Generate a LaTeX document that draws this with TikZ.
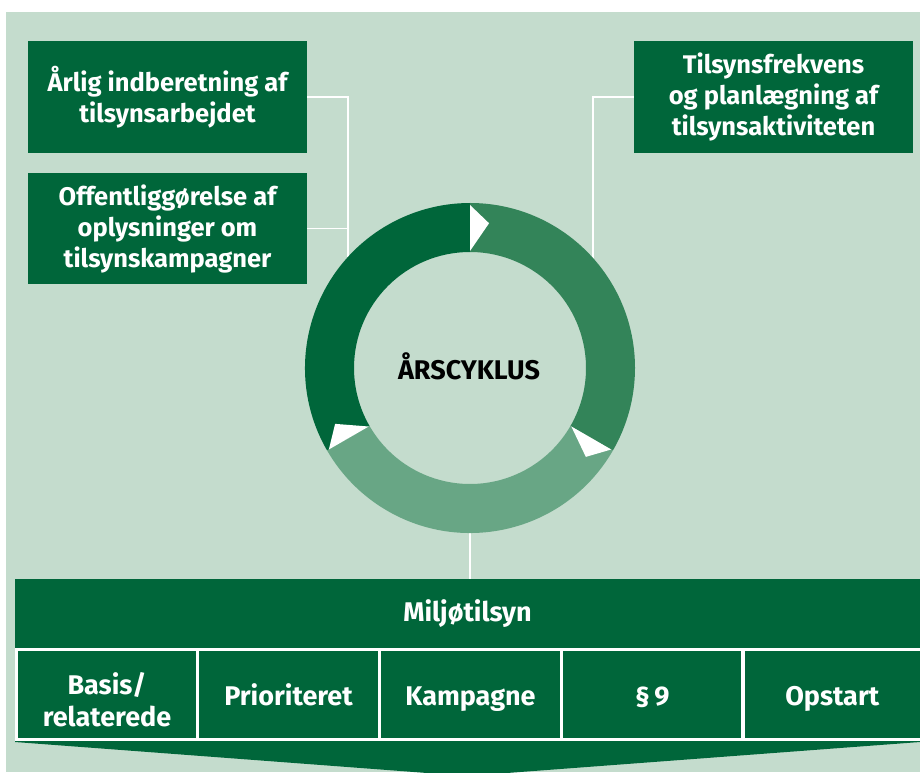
\documentclass[tikz,border=0pt]{standalone}
\usepackage{fontspec}
\setmainfont{Fira Sans}
\definecolor{bg}{HTML}{C4DCCD}
\definecolor{dkg}{HTML}{00663A}
\definecolor{mdg}{HTML}{338459}
\definecolor{ltg}{HTML}{68A685}
\tikzset{
  box/.style={fill=dkg, text=white, font=\bfseries\fontsize{25.5}{31}\selectfont,
    align=center, inner sep=0pt, minimum width=279, minimum height=112},
  cell/.style={fill=dkg, draw=white, line width=3.5pt, inner sep=0pt,
    minimum height=90},
  celltext/.style={text=white, font=\bfseries\fontsize{27}{32}\selectfont,
    align=center, inner sep=0pt},
  link/.style={draw=white, line width=1.5pt},
  lbl/.style={font=\bfseries\fontsize{27}{31}\selectfont, inner sep=0pt}
}
\begin{document}
\begin{tikzpicture}[x=1pt,y=1pt]
\useasboundingbox (0,0) rectangle (920,772);
\clip (0,0) rectangle (920,772);
\fill[bg] (6,0) rectangle (920,760);

% upper boxes
\node[box] (b1) at (167.5,675) {Årlig indberetning af\\tilsynsarbejdet};
\node[box, minimum height=111] (b2) at (167.5,543.5) {Offentliggørelse af\\oplysninger om\\tilsynskampagner};
\node[box] (b3) at (773.5,675) {Tilsynsfrekvens\\og planlægning af\\tilsynsaktiviteten};

% ring points
\coordinate (rc) at (470,404);
\coordinate (rl) at (348,515);
\coordinate (rr) at (593,514);
\coordinate (rb) at (470,239);

% bottom bar + chevron
\fill[dkg] (15,193) -- (920,193) -- (920,30) -- (467,-4) -- (15,30) -- cycle;
\node[lbl, text=white, minimum width=905, minimum height=69] (bar) at (467.5,158.5) {Miljøtilsyn};

% connectors
\draw[link] (b1.east) -| (rl);
\draw[link] (b2.east) -- (b2.east -| rl);
\draw[link] (b3.west) -| (rr);
\draw[link] (rb) -- (rb |- bar.north);

% ring
\begin{scope}[shift={(rc)}]
  \fill[dkg] (210:165) arc[start angle=210, end angle=90, radius=165]
     -- (90:116) arc[start angle=90, end angle=210, radius=116] -- cycle;
  \fill[mdg] (90:165) arc[start angle=90, end angle=-30, radius=165]
     -- (-30:116) arc[start angle=-30, end angle=90, radius=116] -- cycle;
  \fill[ltg] (-30:165) arc[start angle=-30, end angle=-150, radius=165]
     -- (-150:116) arc[start angle=-150, end angle=-30, radius=116] -- cycle;
  \foreach \a in {90,-30,210}
    \fill[white] (\a:117) -- (\a:163) -- (\a-7.5:146) -- cycle;
\end{scope}
\node[lbl, text=black] (title) at (469,406) {ÅRSCYKLUS};

% cells
\node[cell, minimum width=181] (c1) at (107,77.5) {};
\node[cell, minimum width=182] (c2) at (288.5,77.5) {};
\node[cell, minimum width=182] (c3) at (470.5,77.5) {};
\node[cell, minimum width=181.5] (c4) at (652.25,77.5) {};
\node[cell, minimum width=178.5] (c5) at (832.25,77.5) {};
\node[celltext] (t1) at (c1 |- 0,72) {Basis/\\relaterede};
\node[celltext, anchor=base] (t2) at (c2 |- 0,67) {Prioriteret};
\node[celltext, anchor=base] (t3) at (c3 |- 0,67) {Kampagne};
\node[celltext, anchor=base] (t4) at (c4 |- 0,67) {§\,9};
\node[celltext, anchor=base] (t5) at (c5 |- 0,67) {Opstart};
\end{tikzpicture}
\end{document}
